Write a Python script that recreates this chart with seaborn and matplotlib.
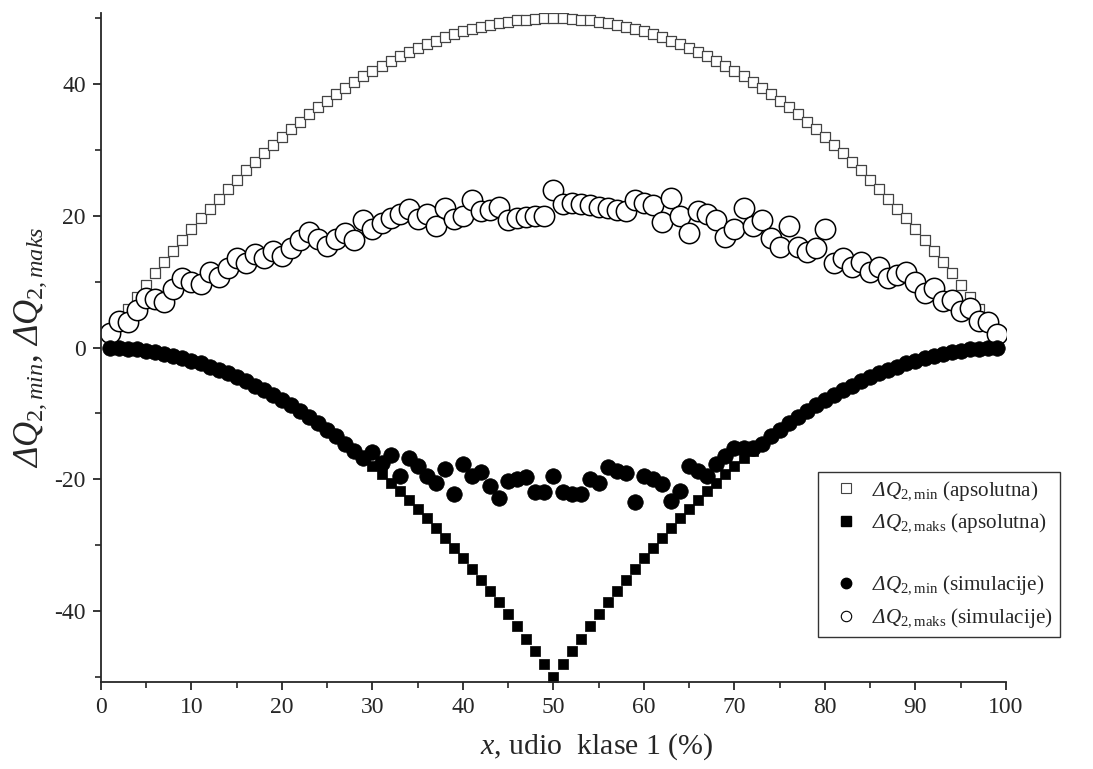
import matplotlib
matplotlib.use("Agg")
import matplotlib.pyplot as plt
import matplotlib.ticker as ticker
from matplotlib.lines import Line2D
import seaborn as sns

# x, udio klase 1 (%)
x_pct = list(range(1, 100))

# dQ2,min (apsolutna) - open squares
abs_min = [2.0, 3.9, 5.8, 7.7, 9.5, 11.3, 13.0, 14.7, 16.4, 18.0,
           19.6, 21.1, 22.6, 24.1, 25.5, 26.9, 28.2, 29.5, 30.8, 32.0,
           33.2, 34.3, 35.4, 36.5, 37.5, 38.5, 39.4, 40.3, 41.2, 42.0,
           42.8, 43.5, 44.2, 44.9, 45.5, 46.1, 46.6, 47.1, 47.6, 48.0,
           48.4, 48.7, 49.0, 49.3, 49.5, 49.7, 49.8, 49.9, 50.0, 50.0,
           50.0, 49.9, 49.8, 49.7, 49.5, 49.3, 49.0, 48.7, 48.4, 48.0,
           47.6, 47.1, 46.6, 46.1, 45.5, 44.9, 44.2, 43.5, 42.8, 42.0,
           41.2, 40.3, 39.4, 38.5, 37.5, 36.5, 35.4, 34.3, 33.2, 32.0,
           30.8, 29.5, 28.2, 26.9, 25.5, 24.1, 22.6, 21.1, 19.6, 18.0,
           16.4, 14.7, 13.0, 11.3, 9.5, 7.7, 5.8, 3.9, 2.0]

# dQ2,maks (apsolutna) - filled squares
abs_max = [0.0, -0.1, -0.2, -0.3, -0.5, -0.7, -1.0, -1.3, -1.6, -2.0,
           -2.4, -2.9, -3.4, -3.9, -4.5, -5.1, -5.8, -6.5, -7.2, -8.0,
           -8.8, -9.7, -10.6, -11.5, -12.5, -13.5, -14.6, -15.7, -16.8, -18.0,
           -19.2, -20.5, -21.8, -23.1, -24.5, -25.9, -27.4, -28.9, -30.4, -32.0,
           -33.6, -35.3, -37.0, -38.7, -40.5, -42.3, -44.2, -46.1, -48.0, -50.0,
           -48.0, -46.1, -44.2, -42.3, -40.5, -38.7, -37.0, -35.3, -33.6, -32.0,
           -30.4, -28.9, -27.4, -25.9, -24.5, -23.1, -21.8, -20.5, -19.2, -18.0,
           -16.8, -15.7, -14.6, -13.5, -12.5, -11.5, -10.6, -9.7, -8.8, -8.0,
           -7.2, -6.5, -5.8, -5.1, -4.5, -3.9, -3.4, -2.9, -2.4, -2.0,
           -1.6, -1.3, -1.0, -0.7, -0.5, -0.3, -0.2, -0.1, 0.0]

# dQ2,min (simulacije) - filled circles
sim_min = [0.0, -0.1, -0.2, -0.3, -0.5, -0.7, -1.0, -1.3, -1.6, -2.0,
           -2.4, -2.9, -3.4, -3.9, -4.5, -5.1, -5.8, -6.5, -7.2, -8.0,
           -8.8, -9.7, -10.6, -11.5, -12.5, -13.5, -14.6, -15.7, -16.8, -15.8,
           -17.5, -16.3, -19.5, -16.8, -18.0, -19.5, -20.5, -18.5, -22.3, -17.7,
           -19.5, -18.9, -21.0, -22.8, -20.3, -19.9, -19.7, -22.0, -22.0, -19.5,
           -22.0, -22.3, -22.3, -20.0, -20.5, -18.2, -18.7, -19.0, -23.5, -19.5,
           -20.0, -20.8, -23.3, -21.8, -18.0, -18.7, -19.5, -17.7, -16.5, -15.2,
           -15.3, -15.2, -14.6, -13.5, -12.5, -11.5, -10.6, -9.7, -8.8, -8.0,
           -7.2, -6.5, -5.8, -5.1, -4.5, -3.9, -3.4, -2.9, -2.4, -2.0,
           -1.6, -1.3, -1.0, -0.7, -0.5, -0.3, -0.2, -0.1, 0.0]

# dQ2,maks (simulacije) - open circles
sim_max = [2.2, 4.0, 3.8, 5.7, 7.5, 7.3, 6.9, 8.9, 10.6, 9.9,
           9.7, 11.4, 10.7, 12.1, 13.6, 12.8, 14.2, 13.6, 14.7, 13.9,
           15.1, 16.3, 17.5, 16.5, 15.4, 16.5, 17.4, 16.4, 19.3, 18.0,
           18.9, 19.6, 20.2, 21.0, 19.5, 20.2, 18.5, 21.2, 19.5, 19.9,
           22.4, 20.7, 20.9, 21.3, 19.4, 19.6, 19.8, 19.9, 20.0, 23.9,
           21.8, 22.0, 21.8, 21.7, 21.4, 21.2, 20.9, 20.7, 22.4, 21.9,
           21.7, 19.1, 22.7, 20.0, 17.4, 20.8, 20.2, 19.4, 16.8, 18.0,
           21.2, 18.4, 19.4, 16.6, 15.3, 18.5, 15.3, 14.5, 15.1, 18.0,
           12.8, 13.6, 12.3, 13.0, 11.5, 12.3, 10.6, 11.0, 11.5, 10.0,
           8.3, 9.0, 7.0, 7.2, 5.5, 6.0, 4.0, 3.8, 2.0]

# \mathsf is mapped to the italic serif so that the capital delta is slanted
legend_labels = [r'$\mathsf{Δ}\mathit{Q}_{\mathrm{2,min}}$ (apsolutna)',
                 r'$\mathsf{Δ}\mathit{Q}_{\mathrm{2,maks}}$ (apsolutna)',
                 ' ',
                 r'$\mathsf{Δ}\mathit{Q}_{\mathrm{2,min}}$ (simulacije)',
                 r'$\mathsf{Δ}\mathit{Q}_{\mathrm{2,maks}}$ (simulacije)']
y_title = r'$\mathsf{Δ}\mathit{Q}_{\mathit{2,min}}$, $\mathsf{Δ}\mathit{Q}_{\mathit{2,maks}}$'
x_title = r'$\mathit{x}$, udio  klase 1 (%)'

sns.set_style("ticks")
plt.rcParams['font.family'] = ['Liberation Serif', 'DejaVu Serif']
plt.rcParams['mathtext.fontset'] = 'custom'
plt.rcParams['mathtext.rm'] = 'Liberation Serif'
plt.rcParams['mathtext.it'] = 'Liberation Serif:italic'
plt.rcParams['mathtext.sf'] = 'Liberation Serif:italic'
plt.rcParams['mathtext.bf'] = 'Liberation Serif:bold'
plt.rcParams['axes.unicode_minus'] = False

fig = plt.figure(figsize=(10.93, 7.69), dpi=100, facecolor="white")
ax = fig.add_axes([0.0924, 0.1131, 0.828, 0.870], facecolor="white")

# draw order: open squares, open circles, filled squares, filled circles
sns.scatterplot(x=x_pct, y=abs_min, marker='s', s=50, color='white',
                edgecolor='#444444', linewidth=0.9, ax=ax, zorder=2, legend=False)
sns.scatterplot(x=x_pct, y=sim_max, marker='o', s=215, color='white',
                edgecolor='black', linewidth=1.1, ax=ax, zorder=3, legend=False)
sns.scatterplot(x=x_pct, y=abs_max, marker='s', s=55, color='black',
                edgecolor='black', linewidth=0.5, ax=ax, zorder=4, legend=False)
sns.scatterplot(x=x_pct, y=sim_min, marker='o', s=125, color='black',
                edgecolor='black', linewidth=0.5, ax=ax, zorder=5, legend=False)

ax.set_xlim(0, 100)
ax.set_ylim(-50.8, 50.8)
ax.spines['top'].set_visible(False)
ax.spines['right'].set_visible(False)
for sp in ['left', 'bottom']:
    ax.spines[sp].set_linewidth(1.3)
    ax.spines[sp].set_zorder(6)

ax.xaxis.set_major_locator(ticker.MultipleLocator(10))
ax.xaxis.set_minor_locator(ticker.MultipleLocator(5))
ax.yaxis.set_major_locator(ticker.MultipleLocator(20))
ax.yaxis.set_minor_locator(ticker.MultipleLocator(10))
ax.tick_params(which='major', direction='out', length=6, width=1.3, labelsize=17, pad=5)
ax.tick_params(which='minor', direction='out', length=4, width=1.2)

ax.set_xlabel(x_title, fontsize=21.5)
ax.xaxis.set_label_coords(0.548, -0.073)
ax.set_ylabel(y_title, fontsize=25)
ax.yaxis.set_label_coords(-0.058, 0.5)

handles = [Line2D([], [], ls='', marker='s', ms=6.5, mfc='white', mec='#444444', mew=0.8),
           Line2D([], [], ls='', marker='s', ms=6.5, mfc='black', mec='black'),
           Line2D([], [], ls='', marker=''),
           Line2D([], [], ls='', marker='o', ms=7.5, mfc='black', mec='black'),
           Line2D([], [], ls='', marker='o', ms=7.5, mfc='white', mec='black', mew=0.8)]
leg = ax.legend(handles, legend_labels, loc='upper left', bbox_to_anchor=(0.792, 0.314),
                frameon=True, fancybox=False, edgecolor='black', fontsize=15.2,
                labelspacing=0.45, handlelength=2.0, handletextpad=0.2,
                borderpad=0.35, borderaxespad=0.0)
leg.get_frame().set_linewidth(1.0)
leg.set_zorder(10)

fig.savefig("out.png", dpi=100, facecolor="white")
